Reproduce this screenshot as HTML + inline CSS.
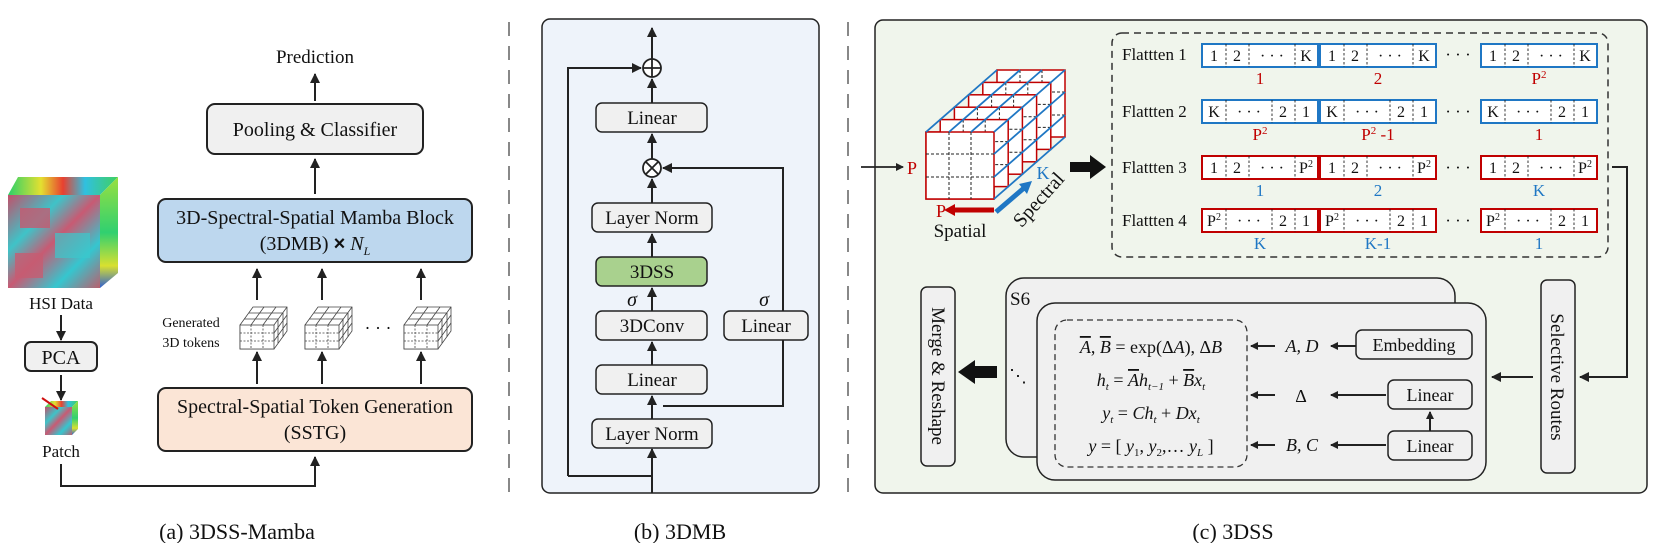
<!DOCTYPE html>
<html><head><meta charset="utf-8"><style>
body{margin:0;background:#fff}
svg{display:block}
text{font-family:"Liberation Serif",serif;fill:#111}
</style></head><body>
<svg width="1661" height="543" viewBox="0 0 1661 543" xmlns="http://www.w3.org/2000/svg">
<defs>
<marker id="ah" markerWidth="10" markerHeight="10" refX="9" refY="5" orient="auto" markerUnits="userSpaceOnUse"><path d="M0,0 L10,5 L0,10 z" fill="#222"/></marker>
<marker id="ahs" markerWidth="8" markerHeight="8" refX="7" refY="4" orient="auto" markerUnits="userSpaceOnUse"><path d="M0,0 L8,4 L0,8 z" fill="#222"/></marker>
<linearGradient id="hsi" x1="0" y1="0" x2="1" y2="1"><stop offset="0" stop-color="#c2506a"/><stop offset="0.3" stop-color="#3fc3c8"/><stop offset="0.5" stop-color="#c85a73"/><stop offset="0.75" stop-color="#35c6cf"/><stop offset="1" stop-color="#b9606e"/></linearGradient>
<linearGradient id="hsit" x1="0" y1="0" x2="1" y2="0"><stop offset="0" stop-color="#2bd06a"/><stop offset="0.3" stop-color="#e4e030"/><stop offset="0.5" stop-color="#e84030"/><stop offset="0.7" stop-color="#30c0e0"/><stop offset="1" stop-color="#40d060"/></linearGradient>
<linearGradient id="hsir" x1="0" y1="0" x2="0" y2="1"><stop offset="0" stop-color="#9ae040"/><stop offset="0.5" stop-color="#30d070"/><stop offset="0.8" stop-color="#d8e030"/><stop offset="1" stop-color="#3060d0"/></linearGradient>
</defs>

<!-- ===== Panel (a) ===== -->
<text x="315" y="63" font-size="19" text-anchor="middle">Prediction</text>
<line x1="315" y1="101" x2="315" y2="74" stroke="#222" stroke-width="2" marker-end="url(#ah)"/>
<rect x="207" y="104" width="216" height="50" rx="8" fill="#f0f0f0" stroke="#222" stroke-width="2"/>
<text x="315" y="136" font-size="20" text-anchor="middle">Pooling &amp; Classifier</text>
<line x1="315" y1="194" x2="315" y2="159" stroke="#222" stroke-width="2" marker-end="url(#ah)"/>
<rect x="158" y="199" width="314" height="63" rx="8" fill="#bdd7ee" stroke="#222" stroke-width="2"/>
<text x="315" y="224" font-size="20" text-anchor="middle">3D-Spectral-Spatial Mamba Block</text>
<text x="315" y="250" font-size="20" text-anchor="middle">(3DMB) <tspan font-family="Liberation Sans" font-weight="bold">×</tspan> <tspan font-style="italic">N</tspan><tspan font-style="italic" font-size="12" dy="5">L</tspan></text>
<g stroke="#222" stroke-width="2">
<line x1="257" y1="300" x2="257" y2="269" marker-end="url(#ah)"/>
<line x1="322" y1="300" x2="322" y2="269" marker-end="url(#ah)"/>
<line x1="421" y1="300" x2="421" y2="269" marker-end="url(#ah)"/>
<line x1="257" y1="384" x2="257" y2="352" marker-end="url(#ah)"/>
<line x1="322" y1="384" x2="322" y2="352" marker-end="url(#ah)"/>
<line x1="421" y1="384" x2="421" y2="352" marker-end="url(#ah)"/>
</g>
<text x="191" y="327" font-size="14" text-anchor="middle">Generated</text>
<text x="191" y="347" font-size="14" text-anchor="middle">3D tokens</text>
<text x="378" y="334" font-size="18" text-anchor="middle">· · ·</text>
<g id="tok" fill="#fff" stroke="#444" stroke-width="0.8" transform="translate(0,5)">
<path d="M240,320 L253,302 L287,302 L287,326 L274,344 L240,344 z"/>
<rect x="240" y="320" width="34" height="24"/>
<path d="M274,320 L287,302"/>
<g stroke-dasharray="2,1.5"><line x1="251" y1="320" x2="251" y2="344"/><line x1="263" y1="320" x2="263" y2="344"/><line x1="240" y1="328" x2="274" y2="328"/><line x1="240" y1="336" x2="274" y2="336"/></g>
<line x1="244" y1="314" x2="278" y2="314"/><line x1="249" y1="308" x2="283" y2="308"/>
<line x1="251" y1="320" x2="264" y2="302"/><line x1="263" y1="320" x2="276" y2="302"/>
<line x1="278" y1="314" x2="278" y2="338"/><line x1="283" y1="308" x2="283" y2="332"/>
<line x1="274" y1="328" x2="287" y2="310"/><line x1="274" y1="336" x2="287" y2="318"/>
</g>
<use href="#tok" x="65"/><use href="#tok" x="164"/>
<rect x="158" y="388" width="314" height="63" rx="8" fill="#fbe5d6" stroke="#222" stroke-width="2"/>
<text x="315" y="413" font-size="20" text-anchor="middle">Spectral-Spatial Token Generation</text>
<text x="315" y="439" font-size="20" text-anchor="middle">(SSTG)</text>
<!-- HSI cube -->
<path d="M8,195 L18,177 L118,177 L100,195 z" fill="url(#hsit)"/>
<path d="M100,195 L118,177 L118,273 L100,288 z" fill="url(#hsir)"/>
<rect x="8" y="195" width="92" height="93" fill="url(#hsi)"/>
<rect x="20" y="208" width="30" height="20" fill="#c45a70" opacity="0.8"/>
<rect x="55" y="233" width="35" height="25" fill="#3cc8cc" opacity="0.7"/>
<rect x="15" y="253" width="28" height="25" fill="#c65c72" opacity="0.8"/>
<text x="61" y="309" font-size="17" text-anchor="middle">HSI Data</text>
<line x1="61" y1="315" x2="61" y2="340" stroke="#222" stroke-width="2" marker-end="url(#ah)"/>
<rect x="25" y="342" width="72" height="29" rx="6" fill="#f0f0f0" stroke="#222" stroke-width="2"/>
<text x="61" y="364" font-size="20" text-anchor="middle">PCA</text>
<line x1="61" y1="375" x2="61" y2="400" stroke="#222" stroke-width="2" marker-end="url(#ah)"/>
<path d="M45,407 L51,401 L78,401 L72,407 z" fill="url(#hsit)"/>
<path d="M72,407 L78,401 L78,429 L72,435 z" fill="url(#hsir)"/>
<rect x="45" y="407" width="27" height="28" fill="url(#hsi)"/>
<line x1="42" y1="398" x2="58" y2="409" stroke="#d01010" stroke-width="2"/>
<text x="61" y="457" font-size="17" text-anchor="middle">Patch</text>
<polyline points="61,464 61,486 315,486 315,457" fill="none" stroke="#222" stroke-width="2" marker-end="url(#ah)"/>
<text x="237" y="539" font-size="22" text-anchor="middle">(a) 3DSS-Mamba</text>

<!-- separators -->
<line x1="509" y1="22" x2="509" y2="493" stroke="#888" stroke-width="2" stroke-dasharray="14,10"/>
<line x1="848" y1="22" x2="848" y2="493" stroke="#888" stroke-width="2" stroke-dasharray="14,10"/>

<!-- ===== Panel (b) ===== -->
<rect x="542" y="19" width="277" height="474" rx="8" fill="#eef3fa" stroke="#222" stroke-width="1.5"/>
<g stroke="#222" stroke-width="2" fill="none">
<line x1="652" y1="59" x2="652" y2="28" marker-end="url(#ah)"/>
<polyline points="568,476 568,68 641,68" marker-end="url(#ah)"/>
<polyline points="568,476 652,476"/>
<line x1="652" y1="103" x2="652" y2="79" marker-end="url(#ah)"/>
<line x1="652" y1="159" x2="652" y2="134" marker-end="url(#ah)"/>
<polyline points="783,311 783,168 663,168" marker-end="url(#ah)"/>
<line x1="652" y1="203" x2="652" y2="179" marker-end="url(#ah)"/>
<line x1="652" y1="257" x2="652" y2="234" marker-end="url(#ah)"/>
<line x1="652" y1="311" x2="652" y2="288" marker-end="url(#ah)"/>
<line x1="652" y1="365" x2="652" y2="342" marker-end="url(#ah)"/>
<line x1="652" y1="419" x2="652" y2="396" marker-end="url(#ah)"/>
<polyline points="783,340 783,406 663,406"/>
<line x1="652" y1="493" x2="652" y2="449" marker-end="url(#ah)"/>
</g>
<circle cx="652" cy="68" r="9" fill="#fff" stroke="#222" stroke-width="1.8"/>
<path d="M643,68 H661 M652,59 V77" stroke="#222" stroke-width="1.8"/>
<circle cx="652" cy="168" r="9" fill="#fff" stroke="#222" stroke-width="1.8"/>
<path d="M646,162 L658,174 M658,162 L646,174" stroke="#222" stroke-width="1.8"/>
<g stroke="#222" stroke-width="1.5">
<rect x="596" y="103" width="111" height="29" rx="6" fill="#f0f0f0"/>
<rect x="592" y="203" width="120" height="29" rx="6" fill="#f0f0f0"/>
<rect x="596" y="257" width="111" height="29" rx="6" fill="#a9d18e"/>
<rect x="596" y="311" width="111" height="29" rx="6" fill="#f0f0f0"/>
<rect x="724" y="311" width="84" height="29" rx="6" fill="#f0f0f0"/>
<rect x="596" y="365" width="111" height="29" rx="6" fill="#f0f0f0"/>
<rect x="592" y="419" width="120" height="29" rx="6" fill="#f0f0f0"/>
</g>
<g font-size="19" text-anchor="middle">
<text x="652" y="124">Linear</text>
<text x="652" y="224">Layer Norm</text>
<text x="652" y="278">3DSS</text>
<text x="652" y="332">3DConv</text>
<text x="766" y="332">Linear</text>
<text x="652" y="386">Linear</text>
<text x="652" y="440">Layer Norm</text>
<text x="632" y="306" font-style="italic" font-size="20">σ</text>
<text x="764" y="306" font-style="italic" font-size="20">σ</text>
</g>
<text x="680" y="539" font-size="22" text-anchor="middle">(b) 3DMB</text>

<!-- ===== Panel (c) ===== -->
<rect x="875" y="20" width="772" height="473" rx="8" fill="#f0f5ec" stroke="#222" stroke-width="1.5"/>
<!-- cube -->
<g id="sl">
<rect x="926" y="132" width="68" height="67" fill="#fff" stroke="#c00000" stroke-width="1.5"/>
<g stroke="#222" stroke-width="1" stroke-dasharray="3,2">
<line x1="949" y1="132" x2="949" y2="199"/><line x1="971" y1="132" x2="971" y2="199"/>
<line x1="926" y1="154" x2="994" y2="154"/><line x1="926" y1="177" x2="994" y2="177"/>
</g>
</g>
<use href="#sl" x="71" y="-62"/>
<use href="#sl" x="56.8" y="-49.6"/>
<use href="#sl" x="42.6" y="-37.2"/>
<use href="#sl" x="28.4" y="-24.8"/>
<use href="#sl" x="14.2" y="-12.4"/>
<use href="#sl"/>
<g stroke="#1f77c4" stroke-width="1.8">
<line x1="926" y1="132" x2="997" y2="70"/><line x1="949" y1="132" x2="1020" y2="70"/>
<line x1="971" y1="132" x2="1042" y2="70"/><line x1="994" y1="132" x2="1065" y2="70"/>
<line x1="994" y1="154" x2="1065" y2="92"/><line x1="994" y1="177" x2="1065" y2="115"/>
<line x1="994" y1="199" x2="1065" y2="137"/>
</g>
<line x1="861" y1="167" x2="903" y2="167" stroke="#222" stroke-width="1.8" marker-end="url(#ahs)"/>
<text x="912" y="174" font-size="18" text-anchor="middle" style="fill:#c00000">P</text>
<line x1="994" y1="210" x2="952" y2="210" stroke="#c00000" stroke-width="5"/>
<path d="M944,210 L955,204 L955,216 z" fill="#c00000"/>
<text x="941" y="217" font-size="18" style="fill:#c00000" text-anchor="middle">P</text>
<text x="960" y="237" font-size="19" text-anchor="middle">Spatial</text>
<line x1="996" y1="212" x2="1024" y2="188" stroke="#1f77c4" stroke-width="5"/>
<path d="M1032,181 L1019,184 L1027,194 z" fill="#1f77c4"/>
<text x="1043" y="179" font-size="18" style="fill:#1f77c4" text-anchor="middle">K</text>
<text x="0" y="6" font-size="20" text-anchor="middle" transform="translate(1039,200) rotate(-48)">Spectral</text>
<path d="M1070,162 H1090 V155 L1106,167 L1090,179 V172 H1070 z" fill="#111"/>
<!-- flatten box -->
<rect x="1112" y="33" width="496" height="224" rx="10" fill="none" stroke="#333" stroke-width="1.5" stroke-dasharray="7,5"/>
<g font-size="17">
<text x="1122" y="60">Flattten 1</text>
<text x="1122" y="117">Flattten 2</text>
<text x="1122" y="173">Flattten 3</text>
<text x="1122" y="226">Flattten 4</text>
</g>
<g font-size="17" text-anchor="middle">
<text x="1458" y="60">· · ·</text><text x="1458" y="117">· · ·</text><text x="1458" y="173">· · ·</text><text x="1458" y="226">· · ·</text>
</g>
<g id="fw">
<rect x="1202" y="44" width="116" height="23" fill="#fff" stroke="#1f77c4" stroke-width="2"/>
<g stroke="#222" stroke-width="0.9" stroke-dasharray="2.5,2"><line x1="1226" y1="44" x2="1226" y2="67"/><line x1="1249" y1="44" x2="1249" y2="67"/><line x1="1295" y1="44" x2="1295" y2="67"/></g>
<g font-size="16" text-anchor="middle"><text x="1214" y="61">1</text><text x="1237" y="61">2</text><text x="1272" y="61">· · ·</text><text x="1306" y="61">K</text></g>
</g>
<use href="#fw" x="118"/><use href="#fw" x="279"/>
<g id="fb">
<rect x="1202" y="100" width="116" height="23" fill="#fff" stroke="#1f77c4" stroke-width="2"/>
<g stroke="#222" stroke-width="0.9" stroke-dasharray="2.5,2"><line x1="1226" y1="100" x2="1226" y2="123"/><line x1="1272" y1="100" x2="1272" y2="123"/><line x1="1295" y1="100" x2="1295" y2="123"/></g>
<g font-size="16" text-anchor="middle"><text x="1214" y="117">K</text><text x="1249" y="117">· · ·</text><text x="1283" y="117">2</text><text x="1306" y="117">1</text></g>
</g>
<use href="#fb" x="118"/><use href="#fb" x="279"/>
<g id="f3">
<rect x="1202" y="156" width="116" height="23" fill="#fff" stroke="#c00000" stroke-width="2"/>
<g stroke="#222" stroke-width="0.9" stroke-dasharray="2.5,2"><line x1="1226" y1="156" x2="1226" y2="179"/><line x1="1249" y1="156" x2="1249" y2="179"/><line x1="1295" y1="156" x2="1295" y2="179"/></g>
<g font-size="16" text-anchor="middle"><text x="1214" y="173">1</text><text x="1237" y="173">2</text><text x="1272" y="173">· · ·</text><text x="1306" y="173">P<tspan font-size="10" dy="-6">2</tspan></text></g>
</g>
<use href="#f3" x="118"/><use href="#f3" x="279"/>
<g id="f4">
<rect x="1202" y="209" width="116" height="23" fill="#fff" stroke="#c00000" stroke-width="2"/>
<g stroke="#222" stroke-width="0.9" stroke-dasharray="2.5,2"><line x1="1226" y1="209" x2="1226" y2="232"/><line x1="1272" y1="209" x2="1272" y2="232"/><line x1="1295" y1="209" x2="1295" y2="232"/></g>
<g font-size="16" text-anchor="middle"><text x="1214" y="226">P<tspan font-size="10" dy="-6">2</tspan></text><text x="1249" y="226">· · ·</text><text x="1283" y="226">2</text><text x="1306" y="226">1</text></g>
</g>
<use href="#f4" x="118"/><use href="#f4" x="279"/>
<g font-size="17" text-anchor="middle">
<text x="1260" y="84" style="fill:#c00000">1</text><text x="1378" y="84" style="fill:#c00000">2</text><text x="1539" y="84" style="fill:#c00000">P<tspan font-size="11" dy="-6">2</tspan></text>
<text x="1260" y="140" style="fill:#c00000">P<tspan font-size="11" dy="-6">2</tspan></text><text x="1378" y="140" style="fill:#c00000">P<tspan font-size="11" dy="-6">2</tspan><tspan dy="6"> -1</tspan></text><text x="1539" y="140" style="fill:#c00000">1</text>
<text x="1260" y="196" style="fill:#1f77c4">1</text><text x="1378" y="196" style="fill:#1f77c4">2</text><text x="1539" y="196" style="fill:#1f77c4">K</text>
<text x="1260" y="249" style="fill:#1f77c4">K</text><text x="1378" y="249" style="fill:#1f77c4">K-1</text><text x="1539" y="249" style="fill:#1f77c4">1</text>
</g>
<!-- routes -->
<polyline points="1612,167 1627,167 1627,377 1580,377" fill="none" stroke="#222" stroke-width="2" marker-end="url(#ah)"/>
<rect x="1541" y="280" width="34" height="193" rx="6" fill="#f0f0f0" stroke="#222" stroke-width="1.5"/>
<text x="0" y="0" font-size="19" text-anchor="middle" transform="translate(1551,377) rotate(90)">Selective Routes</text>
<line x1="1533" y1="377" x2="1492" y2="377" stroke="#222" stroke-width="2" marker-end="url(#ah)"/>
<!-- S6 -->
<rect x="1006" y="278" width="449" height="179" rx="18" fill="#f0f0f0" stroke="#222" stroke-width="1.5"/>
<text x="1010" y="305" font-size="19">S6</text>
<rect x="1037" y="303" width="449" height="177" rx="18" fill="#f0f0f0" stroke="#222" stroke-width="1.5"/>
<text x="1018" y="382" font-size="18" text-anchor="middle">⋱</text>
<rect x="1055" y="320" width="192" height="147" rx="12" fill="none" stroke="#333" stroke-width="1.3" stroke-dasharray="6,4"/>
<g font-size="18" text-anchor="middle">
<text x="1151" y="353"><tspan font-style="italic" text-decoration="overline">A</tspan>, <tspan font-style="italic" text-decoration="overline">B</tspan> = exp(Δ<tspan font-style="italic">A</tspan>), Δ<tspan font-style="italic">B</tspan></text>
<text x="1151" y="386"><tspan font-style="italic">h</tspan><tspan font-size="11" font-style="italic" dy="4">t</tspan><tspan dy="-4"> = </tspan><tspan font-style="italic" text-decoration="overline">A</tspan><tspan font-style="italic">h</tspan><tspan font-size="11" font-style="italic" dy="4">t−1</tspan><tspan dy="-4"> + </tspan><tspan font-style="italic" text-decoration="overline">B</tspan><tspan font-style="italic">x</tspan><tspan font-size="11" font-style="italic" dy="4">t</tspan></text>
<text x="1151" y="419"><tspan font-style="italic">y</tspan><tspan font-size="11" font-style="italic" dy="4">t</tspan><tspan dy="-4"> = </tspan><tspan font-style="italic">Ch</tspan><tspan font-size="11" font-style="italic" dy="4">t</tspan><tspan dy="-4"> + </tspan><tspan font-style="italic">Dx</tspan><tspan font-size="11" font-style="italic" dy="4">t</tspan></text>
<text x="1151" y="452"><tspan font-style="italic">y</tspan> = [ <tspan font-style="italic">y</tspan><tspan font-size="11" dy="4">1</tspan><tspan dy="-4">, </tspan><tspan font-style="italic">y</tspan><tspan font-size="11" dy="4">2</tspan><tspan dy="-4">,… </tspan><tspan font-style="italic">y</tspan><tspan font-size="11" font-style="italic" dy="4">L</tspan><tspan dy="-4"> ]</tspan></text>
</g>
<g stroke="#222" stroke-width="2" fill="none">
<line x1="1275" y1="346" x2="1251" y2="346" marker-end="url(#ahs)"/>
<line x1="1356" y1="346" x2="1331" y2="346" marker-end="url(#ahs)"/>
<line x1="1275" y1="395" x2="1251" y2="395" marker-end="url(#ahs)"/>
<line x1="1386" y1="395" x2="1331" y2="395" marker-end="url(#ahs)"/>
<line x1="1275" y1="445" x2="1251" y2="445" marker-end="url(#ahs)"/>
<line x1="1386" y1="445" x2="1331" y2="445" marker-end="url(#ahs)"/>
<line x1="1430" y1="431" x2="1430" y2="412" marker-end="url(#ahs)"/>
</g>
<g font-size="18" text-anchor="middle">
<text x="1302" y="352" font-style="italic">A, D</text>
<text x="1301" y="402">Δ</text>
<text x="1302" y="451" font-style="italic">B, C</text>
</g>
<g stroke="#222" stroke-width="1.5" fill="#f0f0f0">
<rect x="1356" y="330" width="116" height="29" rx="6"/>
<rect x="1388" y="380" width="84" height="29" rx="6"/>
<rect x="1388" y="431" width="84" height="29" rx="6"/>
</g>
<g font-size="18" text-anchor="middle">
<text x="1414" y="351">Embedding</text>
<text x="1430" y="401">Linear</text>
<text x="1430" y="452">Linear</text>
</g>
<!-- merge -->
<path d="M997,366 H975 V360 L958,372 L975,384 V378 H997 z" fill="#111"/>
<rect x="921" y="287" width="34" height="179" rx="6" fill="#f0f0f0" stroke="#222" stroke-width="1.5"/>
<text x="0" y="0" font-size="19" text-anchor="middle" transform="translate(932,376) rotate(90)">Merge &amp; Reshape</text>
<text x="1233" y="539" font-size="22" text-anchor="middle">(c) 3DSS</text>
</svg>
</body></html>
